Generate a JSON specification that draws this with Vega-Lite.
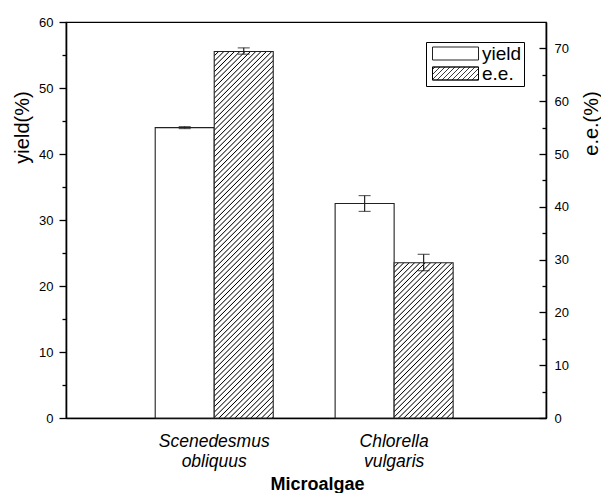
{
"$schema":"https://vega.github.io/schema/vega-lite/v6.json",
"width":480,"height":396,
"autosize":"none",
"padding":{"left":66,"top":22,"right":55,"bottom":75},
"background":"white",
"config":{
"view":{"stroke":"#000","strokeWidth":1.2},
"axis":{"grid":false,"domainColor":"#000","domainWidth":1.6,"tickColor":"#000","tickWidth":1.3,"labelFont":"Liberation Sans","labelFontSize":13,"labelColor":"#000","titleFont":"Liberation Sans","titleColor":"#000","titleFontWeight":"normal"}
},
"data":{"values":[
{"alga":"Scenedesmus obliquus","series":"yield","value":44.0,"lo":43.85,"hi":44.15},
{"alga":"Scenedesmus obliquus","series":"e.e.","value":69.4,"lo":68.9,"hi":70.1},
{"alga":"Chlorella vulgaris","series":"yield","value":32.5,"lo":31.3,"hi":33.7},
{"alga":"Chlorella vulgaris","series":"e.e.","value":29.4,"lo":27.9,"hi":31.0}
]},
"encoding":{
"x":{"field":"alga","type":"nominal","sort":["Scenedesmus obliquus","Chlorella vulgaris"],"scale":{"paddingInner":0.344,"paddingOuter":0.506,"align":0.49},
"axis":{"orient":"bottom","ticks":false,"labelAngle":0,"labelFontSize":17.5,"labelFontStyle":"italic","labelExpr":"split(datum.label, ' ')","labelLineHeight":20,"labelPadding":14,"title":"Microalgae","titleFontSize":18,"titleFontWeight":"bold","titleBaseline":"alphabetic","titleX":251,"titleY":71}},
"xOffset":{"field":"series","type":"nominal","scale":{"domain":["yield","e.e."],"paddingInner":0,"paddingOuter":0}}
},
"layer":[
{"transform":[{"filter":"datum.series === 'yield'"}],
"mark":{"type":"bar","fill":"#fff","strokeWidth":1.1},
"encoding":{
"y":{"field":"value","type":"quantitative","scale":{"domain":[0,60],"nice":false},
"axis":{"orient":"left","values":[0,5,10,15,20,25,30,35,40,45,50,55,60],"labelExpr":"datum.value % 10 === 0 ? datum.label : ''","tickSize":{"condition":{"test":"datum.value % 10 === 0","value":7},"value":4},"labelPadding":6,"title":"yield(%)","titleFontSize":20,"titleFontWeight":"normal","titleAngle":270,"titleX":-44,"titleY":105,"titleAlign":"center","titleBaseline":"middle"}},
"stroke":{"field":"series","type":"nominal","scale":{"domain":["yield","e.e."],"range":["#222","#222"]},
"legend":{"orient":"none","legendX":360,"legendY":20,"title":null,"strokeColor":"#000","padding":2,"symbolType":"M-1,-1.3H8.2V1.3H-1Z","symbolSize":100,"symbolStrokeWidth":1,"symbolStrokeColor":"#000","symbolFillColor":"#fff","labelFont":"Liberation Sans","labelFontSize":19,"labelColor":"#000","labelOffset":35,"rowPadding":0}}
}},
{"transform":[{"filter":"datum.series === 'yield'"}],
"mark":{"type":"rule","color":"#222","strokeWidth":1.2},
"encoding":{"y":{"field":"lo","type":"quantitative","scale":{"domain":[0,60],"nice":false},"axis":null},"y2":{"field":"hi"}}},
{"transform":[{"filter":"datum.series === 'yield'"}],
"mark":{"type":"tick","color":"#222","size":12,"thickness":1.2},
"encoding":{"y":{"field":"hi","type":"quantitative","scale":{"domain":[0,60],"nice":false},"axis":null}}},
{"transform":[{"filter":"datum.series === 'yield'"}],
"mark":{"type":"tick","color":"#222","size":12,"thickness":1.2},
"encoding":{"y":{"field":"lo","type":"quantitative","scale":{"domain":[0,60],"nice":false},"axis":null}}},
{"transform":[{"filter":"datum.series === 'e.e.'"}],
"mark":{"type":"bar","stroke":"#222","strokeWidth":1.1},
"encoding":{
"y":{"field":"value","type":"quantitative","scale":{"domain":[0,75],"nice":false},
"axis":{"orient":"right","values":[0,5,10,15,20,25,30,35,40,45,50,55,60,65,70],"labelExpr":"datum.value % 10 === 0 ? datum.label : ''","tickSize":{"condition":{"test":"datum.value % 10 === 0","value":-7},"value":-4},"labelPadding":15,"title":"e.e.(%)","titleFontSize":20,"titleFontWeight":"normal","titleAngle":270,"titleX":45,"titleY":101,"titleAlign":"center","titleBaseline":"middle"}},
"fill":{"condition":{"test":"datum.alga === 'Chlorella vulgaris'","value":{"gradient":"linear","x1":0,"y1":0,"x2":0.45833,"y2":1.20588,"stops":[
{"offset":0.015,"color":"#fff"},{"offset":0.02,"color":"#000"},{"offset":0.025,"color":"#fff"},
{"offset":0.04,"color":"#fff"},{"offset":0.045,"color":"#000"},{"offset":0.05,"color":"#fff"},
{"offset":0.065,"color":"#fff"},{"offset":0.07,"color":"#000"},{"offset":0.075,"color":"#fff"},
{"offset":0.09,"color":"#fff"},{"offset":0.095,"color":"#000"},{"offset":0.1,"color":"#fff"},
{"offset":0.115,"color":"#fff"},{"offset":0.12,"color":"#000"},{"offset":0.125,"color":"#fff"},
{"offset":0.14,"color":"#fff"},{"offset":0.145,"color":"#000"},{"offset":0.15,"color":"#fff"},
{"offset":0.165,"color":"#fff"},{"offset":0.17,"color":"#000"},{"offset":0.175,"color":"#fff"},
{"offset":0.19,"color":"#fff"},{"offset":0.195,"color":"#000"},{"offset":0.2,"color":"#fff"},
{"offset":0.215,"color":"#fff"},{"offset":0.22,"color":"#000"},{"offset":0.225,"color":"#fff"},
{"offset":0.24,"color":"#fff"},{"offset":0.245,"color":"#000"},{"offset":0.25,"color":"#fff"},
{"offset":0.265,"color":"#fff"},{"offset":0.27,"color":"#000"},{"offset":0.275,"color":"#fff"},
{"offset":0.29,"color":"#fff"},{"offset":0.295,"color":"#000"},{"offset":0.3,"color":"#fff"},
{"offset":0.315,"color":"#fff"},{"offset":0.32,"color":"#000"},{"offset":0.325,"color":"#fff"},
{"offset":0.34,"color":"#fff"},{"offset":0.345,"color":"#000"},{"offset":0.35,"color":"#fff"},
{"offset":0.365,"color":"#fff"},{"offset":0.37,"color":"#000"},{"offset":0.375,"color":"#fff"},
{"offset":0.39,"color":"#fff"},{"offset":0.395,"color":"#000"},{"offset":0.4,"color":"#fff"},
{"offset":0.415,"color":"#fff"},{"offset":0.42,"color":"#000"},{"offset":0.425,"color":"#fff"},
{"offset":0.44,"color":"#fff"},{"offset":0.445,"color":"#000"},{"offset":0.45,"color":"#fff"},
{"offset":0.465,"color":"#fff"},{"offset":0.47,"color":"#000"},{"offset":0.475,"color":"#fff"},
{"offset":0.49,"color":"#fff"},{"offset":0.495,"color":"#000"},{"offset":0.5,"color":"#fff"},
{"offset":0.515,"color":"#fff"},{"offset":0.52,"color":"#000"},{"offset":0.525,"color":"#fff"},
{"offset":0.54,"color":"#fff"},{"offset":0.545,"color":"#000"},{"offset":0.55,"color":"#fff"},
{"offset":0.565,"color":"#fff"},{"offset":0.57,"color":"#000"},{"offset":0.575,"color":"#fff"},
{"offset":0.59,"color":"#fff"},{"offset":0.595,"color":"#000"},{"offset":0.6,"color":"#fff"},
{"offset":0.615,"color":"#fff"},{"offset":0.62,"color":"#000"},{"offset":0.625,"color":"#fff"},
{"offset":0.64,"color":"#fff"},{"offset":0.645,"color":"#000"},{"offset":0.65,"color":"#fff"},
{"offset":0.665,"color":"#fff"},{"offset":0.67,"color":"#000"},{"offset":0.675,"color":"#fff"},
{"offset":0.69,"color":"#fff"},{"offset":0.695,"color":"#000"},{"offset":0.7,"color":"#fff"},
{"offset":0.715,"color":"#fff"},{"offset":0.72,"color":"#000"},{"offset":0.725,"color":"#fff"},
{"offset":0.74,"color":"#fff"},{"offset":0.745,"color":"#000"},{"offset":0.75,"color":"#fff"},
{"offset":0.765,"color":"#fff"},{"offset":0.77,"color":"#000"},{"offset":0.775,"color":"#fff"},
{"offset":0.79,"color":"#fff"},{"offset":0.795,"color":"#000"},{"offset":0.8,"color":"#fff"},
{"offset":0.815,"color":"#fff"},{"offset":0.82,"color":"#000"},{"offset":0.825,"color":"#fff"},
{"offset":0.84,"color":"#fff"},{"offset":0.845,"color":"#000"},{"offset":0.85,"color":"#fff"},
{"offset":0.865,"color":"#fff"},{"offset":0.87,"color":"#000"},{"offset":0.875,"color":"#fff"},
{"offset":0.89,"color":"#fff"},{"offset":0.895,"color":"#000"},{"offset":0.9,"color":"#fff"},
{"offset":0.915,"color":"#fff"},{"offset":0.92,"color":"#000"},{"offset":0.925,"color":"#fff"},
{"offset":0.94,"color":"#fff"},{"offset":0.945,"color":"#000"},{"offset":0.95,"color":"#fff"},
{"offset":0.965,"color":"#fff"},{"offset":0.97,"color":"#000"},{"offset":0.975,"color":"#fff"},
{"offset":0.99,"color":"#fff"},{"offset":0.995,"color":"#000"},{"offset":1,"color":"#fff"}
]}},
"value":{"gradient":"linear","x1":0,"y1":0,"x2":0.18223,"y2":1.1317,"stops":[
{"offset":0.0075,"color":"#fff"},{"offset":0.01,"color":"#000"},{"offset":0.0125,"color":"#fff"},
{"offset":0.02,"color":"#fff"},{"offset":0.0225,"color":"#000"},{"offset":0.025,"color":"#fff"},
{"offset":0.0325,"color":"#fff"},{"offset":0.035,"color":"#000"},{"offset":0.0375,"color":"#fff"},
{"offset":0.045,"color":"#fff"},{"offset":0.0475,"color":"#000"},{"offset":0.05,"color":"#fff"},
{"offset":0.0575,"color":"#fff"},{"offset":0.06,"color":"#000"},{"offset":0.0625,"color":"#fff"},
{"offset":0.07,"color":"#fff"},{"offset":0.0725,"color":"#000"},{"offset":0.075,"color":"#fff"},
{"offset":0.0825,"color":"#fff"},{"offset":0.085,"color":"#000"},{"offset":0.0875,"color":"#fff"},
{"offset":0.095,"color":"#fff"},{"offset":0.0975,"color":"#000"},{"offset":0.1,"color":"#fff"},
{"offset":0.1075,"color":"#fff"},{"offset":0.11,"color":"#000"},{"offset":0.1125,"color":"#fff"},
{"offset":0.12,"color":"#fff"},{"offset":0.1225,"color":"#000"},{"offset":0.125,"color":"#fff"},
{"offset":0.1325,"color":"#fff"},{"offset":0.135,"color":"#000"},{"offset":0.1375,"color":"#fff"},
{"offset":0.145,"color":"#fff"},{"offset":0.1475,"color":"#000"},{"offset":0.15,"color":"#fff"},
{"offset":0.1575,"color":"#fff"},{"offset":0.16,"color":"#000"},{"offset":0.1625,"color":"#fff"},
{"offset":0.17,"color":"#fff"},{"offset":0.1725,"color":"#000"},{"offset":0.175,"color":"#fff"},
{"offset":0.1825,"color":"#fff"},{"offset":0.185,"color":"#000"},{"offset":0.1875,"color":"#fff"},
{"offset":0.195,"color":"#fff"},{"offset":0.1975,"color":"#000"},{"offset":0.2,"color":"#fff"},
{"offset":0.2075,"color":"#fff"},{"offset":0.21,"color":"#000"},{"offset":0.2125,"color":"#fff"},
{"offset":0.22,"color":"#fff"},{"offset":0.2225,"color":"#000"},{"offset":0.225,"color":"#fff"},
{"offset":0.2325,"color":"#fff"},{"offset":0.235,"color":"#000"},{"offset":0.2375,"color":"#fff"},
{"offset":0.245,"color":"#fff"},{"offset":0.2475,"color":"#000"},{"offset":0.25,"color":"#fff"},
{"offset":0.2575,"color":"#fff"},{"offset":0.26,"color":"#000"},{"offset":0.2625,"color":"#fff"},
{"offset":0.27,"color":"#fff"},{"offset":0.2725,"color":"#000"},{"offset":0.275,"color":"#fff"},
{"offset":0.2825,"color":"#fff"},{"offset":0.285,"color":"#000"},{"offset":0.2875,"color":"#fff"},
{"offset":0.295,"color":"#fff"},{"offset":0.2975,"color":"#000"},{"offset":0.3,"color":"#fff"},
{"offset":0.3075,"color":"#fff"},{"offset":0.31,"color":"#000"},{"offset":0.3125,"color":"#fff"},
{"offset":0.32,"color":"#fff"},{"offset":0.3225,"color":"#000"},{"offset":0.325,"color":"#fff"},
{"offset":0.3325,"color":"#fff"},{"offset":0.335,"color":"#000"},{"offset":0.3375,"color":"#fff"},
{"offset":0.345,"color":"#fff"},{"offset":0.3475,"color":"#000"},{"offset":0.35,"color":"#fff"},
{"offset":0.3575,"color":"#fff"},{"offset":0.36,"color":"#000"},{"offset":0.3625,"color":"#fff"},
{"offset":0.37,"color":"#fff"},{"offset":0.3725,"color":"#000"},{"offset":0.375,"color":"#fff"},
{"offset":0.3825,"color":"#fff"},{"offset":0.385,"color":"#000"},{"offset":0.3875,"color":"#fff"},
{"offset":0.395,"color":"#fff"},{"offset":0.3975,"color":"#000"},{"offset":0.4,"color":"#fff"},
{"offset":0.4075,"color":"#fff"},{"offset":0.41,"color":"#000"},{"offset":0.4125,"color":"#fff"},
{"offset":0.42,"color":"#fff"},{"offset":0.4225,"color":"#000"},{"offset":0.425,"color":"#fff"},
{"offset":0.4325,"color":"#fff"},{"offset":0.435,"color":"#000"},{"offset":0.4375,"color":"#fff"},
{"offset":0.445,"color":"#fff"},{"offset":0.4475,"color":"#000"},{"offset":0.45,"color":"#fff"},
{"offset":0.4575,"color":"#fff"},{"offset":0.46,"color":"#000"},{"offset":0.4625,"color":"#fff"},
{"offset":0.47,"color":"#fff"},{"offset":0.4725,"color":"#000"},{"offset":0.475,"color":"#fff"},
{"offset":0.4825,"color":"#fff"},{"offset":0.485,"color":"#000"},{"offset":0.4875,"color":"#fff"},
{"offset":0.495,"color":"#fff"},{"offset":0.4975,"color":"#000"},{"offset":0.5,"color":"#fff"},
{"offset":0.5075,"color":"#fff"},{"offset":0.51,"color":"#000"},{"offset":0.5125,"color":"#fff"},
{"offset":0.52,"color":"#fff"},{"offset":0.5225,"color":"#000"},{"offset":0.525,"color":"#fff"},
{"offset":0.5325,"color":"#fff"},{"offset":0.535,"color":"#000"},{"offset":0.5375,"color":"#fff"},
{"offset":0.545,"color":"#fff"},{"offset":0.5475,"color":"#000"},{"offset":0.55,"color":"#fff"},
{"offset":0.5575,"color":"#fff"},{"offset":0.56,"color":"#000"},{"offset":0.5625,"color":"#fff"},
{"offset":0.57,"color":"#fff"},{"offset":0.5725,"color":"#000"},{"offset":0.575,"color":"#fff"},
{"offset":0.5825,"color":"#fff"},{"offset":0.585,"color":"#000"},{"offset":0.5875,"color":"#fff"},
{"offset":0.595,"color":"#fff"},{"offset":0.5975,"color":"#000"},{"offset":0.6,"color":"#fff"},
{"offset":0.6075,"color":"#fff"},{"offset":0.61,"color":"#000"},{"offset":0.6125,"color":"#fff"},
{"offset":0.62,"color":"#fff"},{"offset":0.6225,"color":"#000"},{"offset":0.625,"color":"#fff"},
{"offset":0.6325,"color":"#fff"},{"offset":0.635,"color":"#000"},{"offset":0.6375,"color":"#fff"},
{"offset":0.645,"color":"#fff"},{"offset":0.6475,"color":"#000"},{"offset":0.65,"color":"#fff"},
{"offset":0.6575,"color":"#fff"},{"offset":0.66,"color":"#000"},{"offset":0.6625,"color":"#fff"},
{"offset":0.67,"color":"#fff"},{"offset":0.6725,"color":"#000"},{"offset":0.675,"color":"#fff"},
{"offset":0.6825,"color":"#fff"},{"offset":0.685,"color":"#000"},{"offset":0.6875,"color":"#fff"},
{"offset":0.695,"color":"#fff"},{"offset":0.6975,"color":"#000"},{"offset":0.7,"color":"#fff"},
{"offset":0.7075,"color":"#fff"},{"offset":0.71,"color":"#000"},{"offset":0.7125,"color":"#fff"},
{"offset":0.72,"color":"#fff"},{"offset":0.7225,"color":"#000"},{"offset":0.725,"color":"#fff"},
{"offset":0.7325,"color":"#fff"},{"offset":0.735,"color":"#000"},{"offset":0.7375,"color":"#fff"},
{"offset":0.745,"color":"#fff"},{"offset":0.7475,"color":"#000"},{"offset":0.75,"color":"#fff"},
{"offset":0.7575,"color":"#fff"},{"offset":0.76,"color":"#000"},{"offset":0.7625,"color":"#fff"},
{"offset":0.77,"color":"#fff"},{"offset":0.7725,"color":"#000"},{"offset":0.775,"color":"#fff"},
{"offset":0.7825,"color":"#fff"},{"offset":0.785,"color":"#000"},{"offset":0.7875,"color":"#fff"},
{"offset":0.795,"color":"#fff"},{"offset":0.7975,"color":"#000"},{"offset":0.8,"color":"#fff"},
{"offset":0.8075,"color":"#fff"},{"offset":0.81,"color":"#000"},{"offset":0.8125,"color":"#fff"},
{"offset":0.82,"color":"#fff"},{"offset":0.8225,"color":"#000"},{"offset":0.825,"color":"#fff"},
{"offset":0.8325,"color":"#fff"},{"offset":0.835,"color":"#000"},{"offset":0.8375,"color":"#fff"},
{"offset":0.845,"color":"#fff"},{"offset":0.8475,"color":"#000"},{"offset":0.85,"color":"#fff"},
{"offset":0.8575,"color":"#fff"},{"offset":0.86,"color":"#000"},{"offset":0.8625,"color":"#fff"},
{"offset":0.87,"color":"#fff"},{"offset":0.8725,"color":"#000"},{"offset":0.875,"color":"#fff"},
{"offset":0.8825,"color":"#fff"},{"offset":0.885,"color":"#000"},{"offset":0.8875,"color":"#fff"},
{"offset":0.895,"color":"#fff"},{"offset":0.8975,"color":"#000"},{"offset":0.9,"color":"#fff"},
{"offset":0.9075,"color":"#fff"},{"offset":0.91,"color":"#000"},{"offset":0.9125,"color":"#fff"},
{"offset":0.92,"color":"#fff"},{"offset":0.9225,"color":"#000"},{"offset":0.925,"color":"#fff"},
{"offset":0.9325,"color":"#fff"},{"offset":0.935,"color":"#000"},{"offset":0.9375,"color":"#fff"},
{"offset":0.945,"color":"#fff"},{"offset":0.9475,"color":"#000"},{"offset":0.95,"color":"#fff"},
{"offset":0.9575,"color":"#fff"},{"offset":0.96,"color":"#000"},{"offset":0.9625,"color":"#fff"},
{"offset":0.97,"color":"#fff"},{"offset":0.9725,"color":"#000"},{"offset":0.975,"color":"#fff"},
{"offset":0.9825,"color":"#fff"},{"offset":0.985,"color":"#000"},{"offset":0.9875,"color":"#fff"},
{"offset":0.995,"color":"#fff"},{"offset":0.9975,"color":"#000"},{"offset":1,"color":"#fff"}
]}}
}},
{"transform":[{"filter":"datum.series === 'e.e.'"}],
"mark":{"type":"rule","color":"#222","strokeWidth":1.2},
"encoding":{"y":{"field":"lo","type":"quantitative","scale":{"domain":[0,75],"nice":false},"axis":null},"y2":{"field":"hi"},
"strokeDash":{"field":"series","type":"nominal","scale":{"domain":["e.e."],"range":[[1,0]]},
"legend":{"orient":"none","legendX":360,"legendY":40,"title":null,"padding":2,"symbolType":"M-1,-1.3H8.2V1.3H-1Z M-1,-0.8L-0.5,-1.3 M-1,0.2L0.5,-1.3 M-1,1.2L1.5,-1.3 M-0.1,1.3L2.5,-1.3 M0.9,1.3L3.5,-1.3 M1.9,1.3L4.5,-1.3 M2.9,1.3L5.5,-1.3 M3.9,1.3L6.5,-1.3 M4.9,1.3L7.5,-1.3 M5.9,1.3L8.2,-1 M6.9,1.3L8.2,0 M7.9,1.3L8.2,1","symbolSize":100,"symbolStrokeWidth":1,"symbolStrokeColor":"#000","symbolFillColor":"transparent","labelFont":"Liberation Sans","labelFontSize":19,"labelColor":"#000","labelOpacity":0,"labelOffset":35}}}},
{"transform":[{"filter":"datum.series === 'e.e.'"}],
"mark":{"type":"tick","color":"#222","size":12,"thickness":1.2},
"encoding":{"y":{"field":"hi","type":"quantitative","scale":{"domain":[0,75],"nice":false},"axis":null}}},
{"transform":[{"filter":"datum.series === 'e.e.'"}],
"mark":{"type":"tick","color":"#222","size":12,"thickness":1.2},
"encoding":{"y":{"field":"lo","type":"quantitative","scale":{"domain":[0,75],"nice":false},"axis":null}}}
],
"resolve":{"scale":{"y":"independent"}}
}
